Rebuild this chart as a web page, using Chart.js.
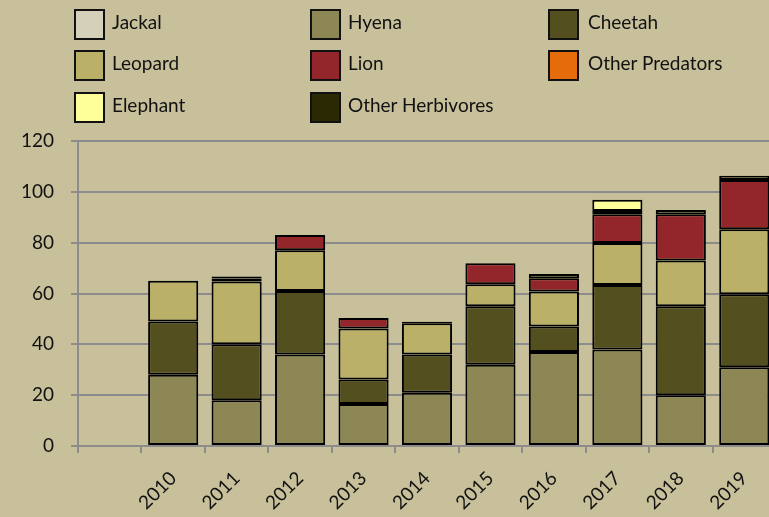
<!DOCTYPE html>
<html>
<head>
<meta charset="utf-8">
<script src="https://cdn.jsdelivr.net/npm/chart.js@4.4.1/dist/chart.umd.min.js"></script>
<style>
  html, body { margin: 0; padding: 0; background: #c7c09a; overflow: hidden; }
  #wrap { position: relative; width: 769px; height: 517px; overflow: hidden; }
  #chart { position: absolute; left: 0; top: 0; }
  .item { position: absolute; font: 19px Lato, sans-serif; color: #111; }
  .box { position: absolute; width: 27px; height: 27px; border: 2px solid #111; }
  .label { position: absolute; white-space: nowrap; line-height: 20px; }
</style>
</head>
<body>
<div id="wrap">
  <canvas id="chart" width="800" height="517"></canvas>
  <div id="legend"></div>
</div>
<script>
const categories = ['', '2010', '2011', '2012', '2013', '2014', '2015', '2016', '2017', '2018', '2019'];

const seriesNames = ['Jackal', 'Hyena', 'Cheetah', 'Leopard', 'Lion', 'Other Predators', 'Elephant', 'Other Herbivores'];
const seriesColors = ['#d4d0b9', '#8c8754', '#544f1e', '#bbb068', '#93262a', '#e56b0b', '#ffff99', '#2a2903'];

const jackal = [null, null, null, null, null, null, null, null, null, null, null];
const hyena = [null, 28, 18, 36, 16.5, 21, 32, 37, 38, 20, 31];
const cheetah = [null, 21, 22, 25, 9.7, 15, 23, 10, 25.3, 35, 28.7];
const leopard = [null, 16, 24.7, 16, 20, 12.3, 8.6, 13.8, 16.6, 18, 25.6];
const lion = [null, null, 1.2, 6, 4.2, null, 8.3, 5.2, 11.3, 18.2, 19.4];
const otherPredators = [null, null, null, null, null, null, null, null, 1.3, null, null];
const elephant = [null, null, null, null, null, null, null, 1.7, 4.4, 1.7, 1.6];
const otherHerbivores = [null, null, 0.8, null, null, 0.6, null, null, null, null, null];

const yTicks = [0, 20, 40, 60, 80, 100, 120];

const seriesValues = [jackal, hyena, cheetah, leopard, lion, otherPredators, elephant, otherHerbivores];

// legend drawn as html, three per row
const legendPos = [
  [74, 9], [310, 9], [548, 9],
  [74, 50], [310, 50], [548, 50],
  [74, 92], [310, 92]
];
const legend = document.getElementById('legend');
seriesNames.forEach((name, i) => {
  const [x, y] = legendPos[i];
  legend.innerHTML += `
    <div class="item" style="left:${x}px;top:${y}px">
      <div class="box" style="left:0;top:0;background:${seriesColors[i]}"></div>
      <div class="label" style="left:${i % 3 === 2 ? 40 : 38}px;top:3px">${name}</div>
    </div>`;
});

const font = { family: 'Lato, sans-serif', size: 19 };

new Chart(document.getElementById('chart'), {
  type: 'bar',
  data: {
    labels: categories,
    datasets: seriesNames.map((name, i) => ({
      label: name,
      data: seriesValues[i],
      backgroundColor: seriesColors[i],
      borderColor: '#000',
      borderWidth: 2,
      borderSkipped: false,
      barPercentage: 0.79,
      categoryPercentage: 1
    }))
  },
  options: {
    responsive: false,
    animation: false,
    layout: { padding: { top: 141, right: 24, left: 0, bottom: 0 } },
    plugins: { legend: { display: false }, tooltip: { enabled: false } },
    scales: {
      x: {
        stacked: true,
        afterFit: s => { s.height = 71; },
        grid: { offset: true, drawOnChartArea: false, color: '#8c8c8c', lineWidth: 2, tickLength: 7 },
        border: { color: '#8c8c8c', width: 2 },
        ticks: { color: '#111', font, minRotation: 45, maxRotation: 45, padding: 14 }
      },
      y: {
        stacked: true,
        min: 0,
        max: 120,
        afterFit: s => { s.width = 78; },
        afterBuildTicks: s => { s.ticks = yTicks.map(v => ({ value: v })); },
        grid: { color: '#8c8c8c', lineWidth: 2, tickLength: 7 },
        border: { color: '#8c8c8c', width: 2 },
        ticks: { color: '#111', font, padding: 17 }
      }
    }
  }
});
</script>
</body>
</html>
